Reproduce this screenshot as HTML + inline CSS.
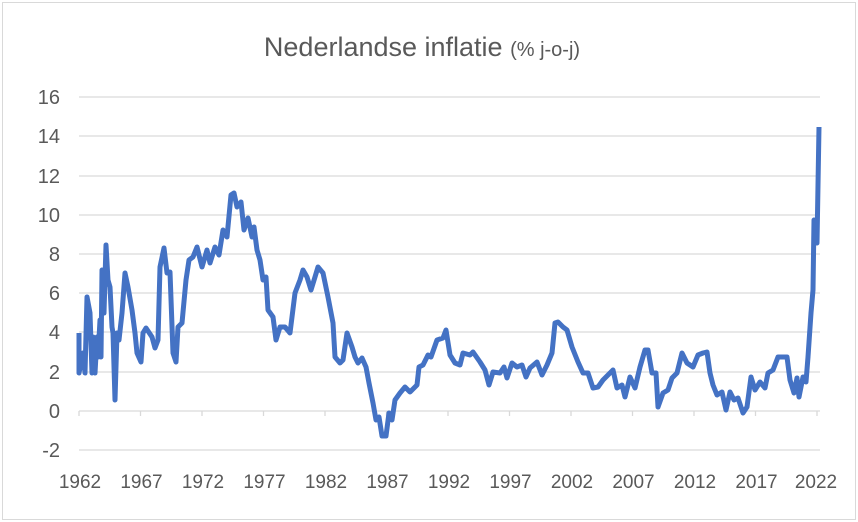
<!DOCTYPE html>
<html><head><meta charset="utf-8"><style>
html,body{margin:0;padding:0;background:#fff}
svg{display:block;font-family:"Liberation Sans",sans-serif}
</style></head><body>
<svg width="858" height="522" viewBox="0 0 858 522">
<rect x="2.5" y="2.5" width="853" height="517" fill="#fff" stroke="#d9d9d9"/>
<text x="422" y="56" text-anchor="middle" fill="#595959" font-size="27">Nederlandse inflatie <tspan font-size="20">(% j-o-j)</tspan></text>
<g stroke="#d9d9d9" stroke-width="1.3">
<line x1="79" x2="820" y1="97" y2="97"/><line x1="79" x2="820" y1="136" y2="136"/>
<line x1="79" x2="820" y1="176" y2="176"/><line x1="79" x2="820" y1="215" y2="215"/>
<line x1="79" x2="820" y1="254" y2="254"/><line x1="79" x2="820" y1="293" y2="293"/>
<line x1="79" x2="820" y1="332" y2="332"/><line x1="79" x2="820" y1="372" y2="372"/>
<line x1="79" x2="820" y1="411" y2="411"/><line x1="79" x2="820" y1="450" y2="450"/>
<line x1="79" x2="79" y1="411" y2="416"/><line x1="140.5" x2="140.5" y1="411" y2="416"/>
<line x1="202" x2="202" y1="411" y2="416"/><line x1="263.5" x2="263.5" y1="411" y2="416"/>
<line x1="325" x2="325" y1="411" y2="416"/><line x1="386.5" x2="386.5" y1="411" y2="416"/>
<line x1="448" x2="448" y1="411" y2="416"/><line x1="509.5" x2="509.5" y1="411" y2="416"/>
<line x1="571" x2="571" y1="411" y2="416"/><line x1="632.5" x2="632.5" y1="411" y2="416"/>
<line x1="694" x2="694" y1="411" y2="416"/><line x1="755.5" x2="755.5" y1="411" y2="416"/>
<line x1="817" x2="817" y1="411" y2="416"/>
</g>
<g fill="#595959" font-size="20" text-anchor="end">
<text x="60" y="104">16</text><text x="60" y="143">14</text><text x="60" y="183">12</text>
<text x="60" y="222">10</text><text x="60" y="261">8</text><text x="60" y="300">6</text>
<text x="60" y="339">4</text><text x="60" y="379">2</text><text x="60" y="418">0</text>
<text x="60" y="457">-2</text>
</g>
<g fill="#595959" font-size="19" text-anchor="middle">
<text x="80" y="488">1962</text><text x="141.5" y="488">1967</text><text x="203" y="488">1972</text>
<text x="264.5" y="488">1977</text><text x="326" y="488">1982</text><text x="387.5" y="488">1987</text>
<text x="449" y="488">1992</text><text x="510.5" y="488">1997</text><text x="572" y="488">2002</text>
<text x="633.5" y="488">2007</text><text x="695" y="488">2012</text><text x="756.5" y="488">2017</text>
<text x="816" y="488">2022</text>
</g>
<polyline fill="none" stroke="#4472c4" stroke-width="5" stroke-linejoin="round" points="
79,333 79,373 83,353 85,373 87,297 90,313 92,373 93,337 95,373 97,337 98,357 100,320 101,357 102,270 104,313 106,245 108,280 110,287 112,327 113,333 115,400 117,333 119,340 122,313 125,273 128,287 132,310 135,333 137,353 141,362 143,333 146,328 152,337 155,348 158,340 160,267 164,248 167,273 170,272 173,353 176,362 178,327 182,323 186,280 189,260 193,257 197,247 202,267 207,250 210,263 215,247 219,255 223,230 227,237 231,195 234,193 237,207 241,202 244,230 248,218 252,237 254,227 257,250 260,260 263,280 266,277 268,310 273,317 276,340 280,327 285,327 290,333 295,293 300,280 303,270 307,277 311,290 315,277 318,267 323,273 328,297 333,323 335,357 340,363 343,360 347,333 352,347 355,357 358,363 362,358 366,367 369,383 373,403 376,420 379,417 382,436 386,436 389,413 392,420 395,400 400,393 405,387 410,392 417,385 419,367 423,365 428,355 431,357 437,340 443,338 446,330 450,355 455,363 460,365 463,353 470,355 473,352 480,362 485,370 489,385 493,372 500,373 504,367 507,378 512,363 517,367 522,365 526,377 530,368 537,362 542,375 547,365 552,353 555,323 558,322 563,327 567,330 572,347 578,362 583,373 588,373 593,388 598,387 603,380 608,375 613,370 617,388 622,385 625,397 630,377 635,388 640,367 645,350 648,350 652,373 656,373 658,407 663,393 668,390 672,378 677,373 682,353 687,363 693,367 698,355 703,353 707,352 710,373 713,385 717,395 722,392 726,410 730,392 734,400 738,398 743,413 747,407 751,377 755,390 760,382 765,388 768,373 773,370 778,357 783,357 787,357 790,380 794,393 797,378 799,397 803,377 806,382 808,357 811,313 813,290 814,220 816,240 817,243 819,127"/>
</svg>
</body></html>
